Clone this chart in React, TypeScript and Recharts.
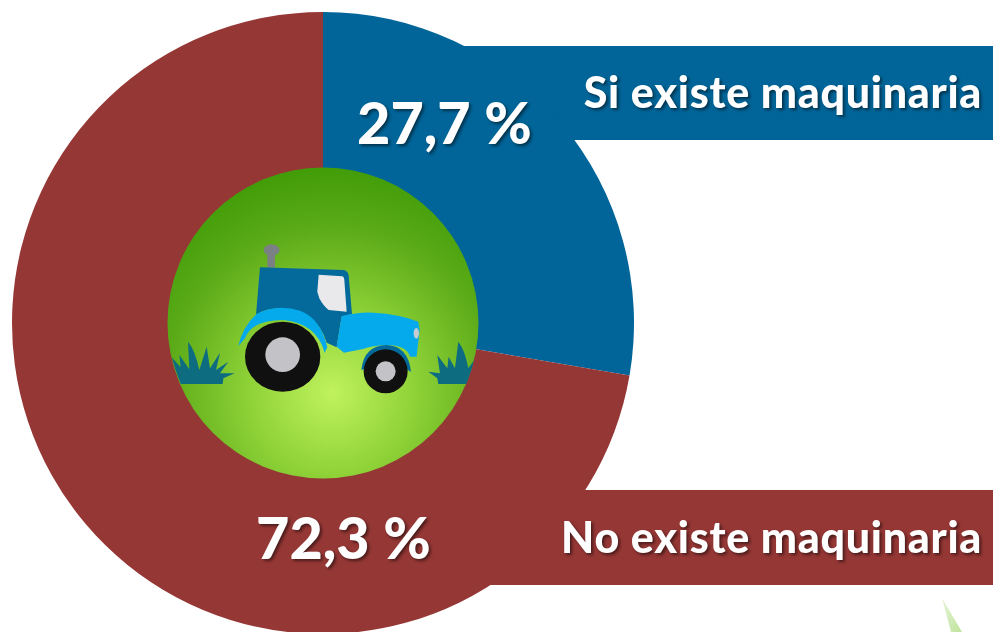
import React from 'react';
import { PieChart, Pie, Cell } from 'recharts';

const categories = ['Si existe maquinaria', 'No existe maquinaria'];
const values = [27.7, 72.3];
const percentLabels = ['27,7 %', '72,3 %'];
const colors = ['#016599', '#953735'];

const pieData = categories.map((name, i) => ({ name, value: values[i] }));

const WIDTH = 993;
const HEIGHT = 632;
const font = 'Lato, "Open Sans", sans-serif';
const shadow = { filter: 'drop-shadow(2px 2px 1.5px rgba(0,0,0,0.5))' };

// grass tufts, in the zoomed coordinates of the tractor group
const grassLeft =
  'M62 672 L50 640 L34 590 L62 622 L58 585 L88 628 L84 545 Q105 570 118 630 L140 560 L150 625 L180 578 L168 630 L205 605 L180 640 L224 640 L190 655 L188 672 Z';
const grassRight =
  'M835 672 L832 655 L805 635 L840 640 L832 585 L862 625 L866 590 L885 625 L895 545 Q915 570 925 625 L950 590 L950 672 Z';

const Tractor = () => (
  <g transform="translate(160,160) scale(0.3333)">
    <clipPath id="inner-clip">
      <circle cx={490} cy={490} r={466} />
    </clipPath>
    <g clipPath="url(#inner-clip)" fill="#0d6c80">
      <path d={grassLeft} />
      <path d={grassRight} />
    </g>
    <rect x={322} y={275} width={23} height={48} fill="#7b8084" />
    <ellipse cx={335} cy={270} rx={24} ry={17} fill="#7b8084" />
    <path d="M300 322 L550 330 Q564 332 566 346 L576 462 L545 470 L530 562 L500 548 Q470 450 360 445 Q320 445 288 464 Z" fill="#046a9c" />
    <path d="M476 344 L546 349 Q552 350 553 360 L560 455 L506 450 Q490 438 478 415 L472 395 Z" fill="#e9e9ec" />
    <path d="M545 468 Q600 455 640 458 Q720 462 775 485 L779 510 L770 590 L750 590 Q740 555 680 555 Q630 558 612 566 L552 578 L530 560 Z" fill="#05aaec" />
    <ellipse cx={769} cy={520} rx={8} ry={16} fill="#c5cdd0" />
    <path d="M235 558 Q248 500 290 462 Q350 430 420 452 Q482 475 502 562 L494 578 Q470 490 370 480 Q275 480 255 535 Z" fill="#05aaec" />
    <ellipse cx={368} cy={590} rx={113} ry={105} fill="#111010" />
    <circle cx={368} cy={584} r={52} fill="#c3c3c7" />
    <path d="M604 630 Q612 556 680 555 Q745 558 753 636 L700 600 Z" fill="#046a9c" />
    <circle cx={677} cy={634} r={66} fill="#111010" />
    <circle cx={677} cy={634} r={30} fill="#c3c3c7" />
  </g>
);

export default function App() {
  return (
    <div style={{ position: 'absolute', left: 0, top: 0, width: WIDTH, height: HEIGHT, overflow: 'hidden', background: '#fff' }}>
      {/* label bands sit behind the donut */}
      <div style={{ position: 'absolute', left: 420, top: 46, width: 573, height: 94, background: colors[0] }} />
      <div style={{ position: 'absolute', left: 420, top: 490, width: 573, height: 95, background: colors[1] }} />

      <div style={{ position: 'absolute', left: 0, top: 0 }}>
        <PieChart width={WIDTH} height={HEIGHT} margin={{ top: 0, right: 0, bottom: 0, left: 0 }}>
          <Pie
            data={pieData}
            dataKey="value"
            cx={323}
            cy={323}
            outerRadius={311}
            innerRadius={150}
            startAngle={90}
            endAngle={-270}
            stroke="none"
            isAnimationActive={false}
          >
            {pieData.map((d, i) => (
              <Cell key={d.name} fill={colors[i]} />
            ))}
          </Pie>
        </PieChart>
      </div>

      <svg width={WIDTH} height={HEIGHT} style={{ position: 'absolute', left: 0, top: 0 }}>
        <defs>
          <radialGradient id="disc" gradientUnits="userSpaceOnUse" cx={332} cy={393} r={235}>
            <stop offset="0" stopColor="#c0f25e" />
            <stop offset="0.35" stopColor="#8fd238" />
            <stop offset="0.7" stopColor="#5cab18" />
            <stop offset="1" stopColor="#3d9a06" />
          </radialGradient>
          <linearGradient id="leaf" x1="0" y1="0" x2="1" y2="1">
            <stop offset="0" stopColor="#e6f4d8" />
            <stop offset="1" stopColor="#bfe39c" />
          </linearGradient>
        </defs>
        <circle cx={323} cy={323} r={155.5} fill="url(#disc)" />
        <Tractor />
        <path d="M942 598 L962 632 L951 632 Z" fill="url(#leaf)" />
        <g fontFamily={font} fontWeight={900} fill="#fff" style={shadow}>
          <text x={444.5} y={144} fontSize={57.5} textAnchor="middle">{percentLabels[0]}</text>
          <text x={343.5} y={559} fontSize={57.5} textAnchor="middle">{percentLabels[1]}</text>
          <text x={982} y={108} fontSize={43} textAnchor="end" letterSpacing={0.7}>{categories[0]}</text>
          <text x={982} y={553} fontSize={43} textAnchor="end" letterSpacing={0.7}>{categories[1]}</text>
        </g>
      </svg>
    </div>
  );
}
